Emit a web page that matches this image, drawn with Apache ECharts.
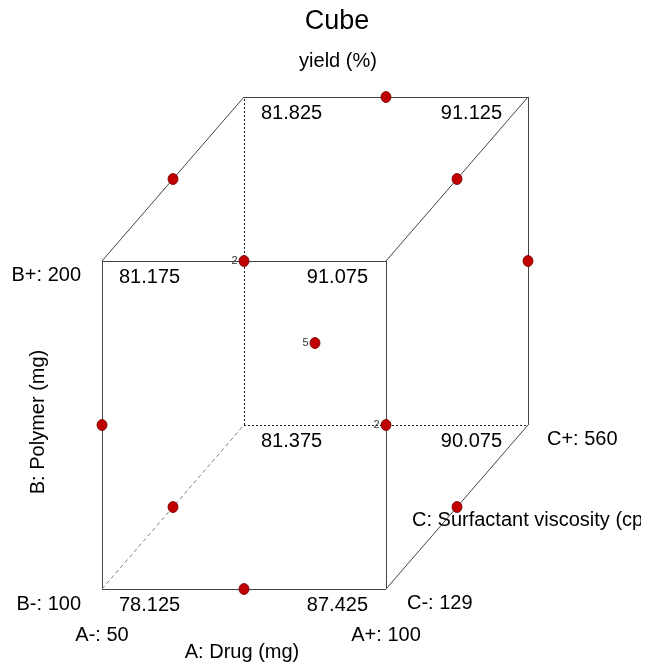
<!DOCTYPE html>
<html>
<head>
<meta charset="utf-8">
<script src="https://cdn.jsdelivr.net/npm/echarts@6/dist/echarts.min.js"></script>
<style>
  html, body { margin: 0; padding: 0; background: #fff; }
  #chart { width: 657px; height: 664px; }
</style>
</head>
<body>
<div id="chart"></div>
<script>
// Box-Behnken cube plot of yield (%) against three factors.
const titleText = 'Cube';
const responseName = 'yield (%)';
const factorNames = ['A: Drug (mg)', 'B: Polymer (mg)', 'C: Surfactant viscosity (cps)'];
const factorLetters = ['A', 'B', 'C'];
const lowLevels = [50, 100, 129];
const highLevels = [100, 200, 560];

// Cube corners in coded units (A, B, C) and the predicted yield at each.
const cornerCodes = [
  [-1, -1, -1], [1, -1, -1], [-1, 1, -1], [1, 1, -1],
  [-1, -1, 1], [1, -1, 1], [-1, 1, 1], [1, 1, 1]
];
const cornerYield = [78.125, 87.425, 81.175, 91.075, 81.375, 90.075, 81.825, 91.125];

// Design runs: edge midpoints plus replicated centre point.
const designCodes = [
  [0, -1, -1], [0, 1, -1], [0, -1, 1], [0, 1, 1],
  [-1, 0, -1], [1, 0, -1], [-1, 0, 1], [1, 0, 1],
  [-1, -1, 0], [1, -1, 0], [-1, 1, 0], [1, 1, 0],
  [0, 0, 0]
];
const designRuns = [1, 1, 1, 1, 1, 1, 1, 1, 1, 1, 1, 1, 5];

// Oblique projection: C runs back and up at half the face size.
function proj(c) {
  return [(c[0] + 1) / 2 + (c[2] + 1) / 4, (c[1] + 1) / 2 + (c[2] + 1) / 4];
}

const FONT = 'Liberation Sans, Arial, sans-serif';
const INK = '#000';
const hiddenCorner = [-1, -1, 1];
const same = (p, q) => p[0] === q[0] && p[1] === q[1] && p[2] === q[2];

// Edges: corner pairs differing in a single factor.
const edgeData = [];
for (let i = 0; i < cornerCodes.length; i++) {
  for (let j = i + 1; j < cornerCodes.length; j++) {
    const p = cornerCodes[i], q = cornerCodes[j];
    let diff = -1, n = 0;
    for (let k = 0; k < 3; k++) if (p[k] !== q[k]) { n++; diff = k; }
    if (n !== 1) continue;
    const hidden = same(p, hiddenCorner) || same(q, hiddenCorner);
    let lineStyle;
    if (!hidden) lineStyle = { color: '#444', width: 1, type: 'solid', opacity: 1 };
    else if (diff === 2) lineStyle = { color: '#808080', width: 1, type: [4, 3], opacity: 1 };
    else lineStyle = { color: '#222', width: 1, type: [2, 2], opacity: 1 };
    edgeData.push({ coords: [proj(p), proj(q)], lineStyle });
  }
}

// Group design runs that project onto the same spot.
const groups = [];
designCodes.forEach((c, i) => {
  const xy = proj(c);
  const g = groups.find(g => Math.abs(g.xy[0] - xy[0]) < 1e-9 && Math.abs(g.xy[1] - xy[1]) < 1e-9);
  if (g) g.count += designRuns[i];
  else groups.push({ xy, count: designRuns[i] });
});

// Corner response labels.
const cornerLabelData = cornerCodes.map((c, i) => {
  const right = c[0] > 0;
  return {
    value: proj(c).concat([cornerYield[i]]),
    label: {
      align: right ? 'right' : 'left',
      offset: [right ? (c[2] > 0 ? -26 : -18) : 17, 16]
    }
  };
});

// Factor level labels and the two horizontal-ish factor names.
const levelLabelData = [
  { value: proj([-1, 1, -1]), name: factorLetters[1] + '+: ' + highLevels[1], label: { align: 'right', offset: [-21, 14] } },
  { value: proj([-1, -1, -1]), name: factorLetters[1] + '-: ' + lowLevels[1], label: { align: 'right', offset: [-21, 15] } },
  { value: proj([-1, -1, -1]), name: factorLetters[0] + '-: ' + lowLevels[0], label: { align: 'center', offset: [0, 46] } },
  { value: proj([1, -1, -1]), name: factorLetters[0] + '+: ' + highLevels[0], label: { align: 'center', offset: [0, 46] } },
  { value: proj([1, -1, -1]), name: factorLetters[2] + '-: ' + lowLevels[2], label: { align: 'left', offset: [21, 14] } },
  { value: proj([1, -1, 1]), name: factorLetters[2] + '+: ' + highLevels[2], label: { align: 'left', offset: [19, 14] } },
  { value: proj([0, -1, -1]), name: factorNames[0], label: { align: 'center', offset: [-2, 63] } },
  { value: proj([1, -1, 0]), name: factorNames[2], label: { align: 'left', offset: [-45, 13] } }
];

const textLabel = {
  show: true,
  position: 'inside',
  align: 'center',
  verticalAlign: 'middle',
  fontFamily: FONT,
  fontSize: 20,
  color: INK,
  opacity: 1,
  textBorderWidth: 0,
  textBorderColor: 'rgba(0,0,0,0)'
};

const chart = echarts.init(document.getElementById('chart'), null, { renderer: 'canvas' });
chart.setOption({
  backgroundColor: '#fff',
  animation: false,
  grid: { left: 102, right: 129, top: 97, bottom: 75 },
  xAxis: { type: 'value', min: 0, max: 1.5, show: false },
  yAxis: { type: 'value', min: 0, max: 1.5, show: false },
  series: [
    {
      type: 'lines',
      coordinateSystem: 'cartesian2d',
      polyline: false,
      clip: false,
      silent: true,
      z: 1,
      data: edgeData
    },
    {
      type: 'scatter',
      z: 3,
      clip: false,
      symbol: 'circle',
      symbolSize: [10, 11],
      itemStyle: { color: '#c00000', borderColor: '#700000', borderWidth: 0.8, opacity: 1 },
      label: {
        show: true,
        position: 'left',
        distance: 1,
        fontFamily: FONT,
        fontSize: 11,
        color: '#333',
        formatter: p => (p.value[2] > 1 ? String(p.value[2]) : '')
      },
      data: groups.map(g => g.xy.concat([g.count]))
    },
    {
      type: 'scatter',
      z: 4,
      clip: false,
      silent: true,
      symbolSize: 1,
      itemStyle: { color: 'rgba(0,0,0,0)', opacity: 1 },
      label: Object.assign({}, textLabel, { formatter: p => p.value[2].toFixed(3) }),
      data: cornerLabelData
    },
    {
      type: 'scatter',
      z: 4,
      clip: false,
      silent: true,
      symbolSize: 1,
      itemStyle: { color: 'rgba(0,0,0,0)', opacity: 1 },
      label: Object.assign({}, textLabel, { formatter: p => p.name }),
      data: levelLabelData
    }
  ]
});

// Title block, vertical factor name (placed from the grid scale) and the right-edge crop.
const bMid = chart.convertToPixel({ gridIndex: 0 }, proj([-1, 0, -1]));
chart.setOption({
  graphic: [
    { type: 'text', x: 337, y: 22, style: { text: titleText, font: '27px ' + FONT, fill: INK, align: 'center', verticalAlign: 'middle' } },
    { type: 'text', x: 338, y: 61, style: { text: responseName, font: '20px ' + FONT, fill: INK, align: 'center', verticalAlign: 'middle' } },
    { type: 'text', x: bMid[0] - 64, y: bMid[1] - 3, rotation: Math.PI / 2,
      style: { text: factorNames[1], font: '20px ' + FONT, fill: INK, align: 'center', verticalAlign: 'middle' } },
    { type: 'rect', shape: { x: 641, y: 500, width: 20, height: 40 }, style: { fill: '#fff' }, z: 100 }
  ]
});
</script>
</body>
</html>
